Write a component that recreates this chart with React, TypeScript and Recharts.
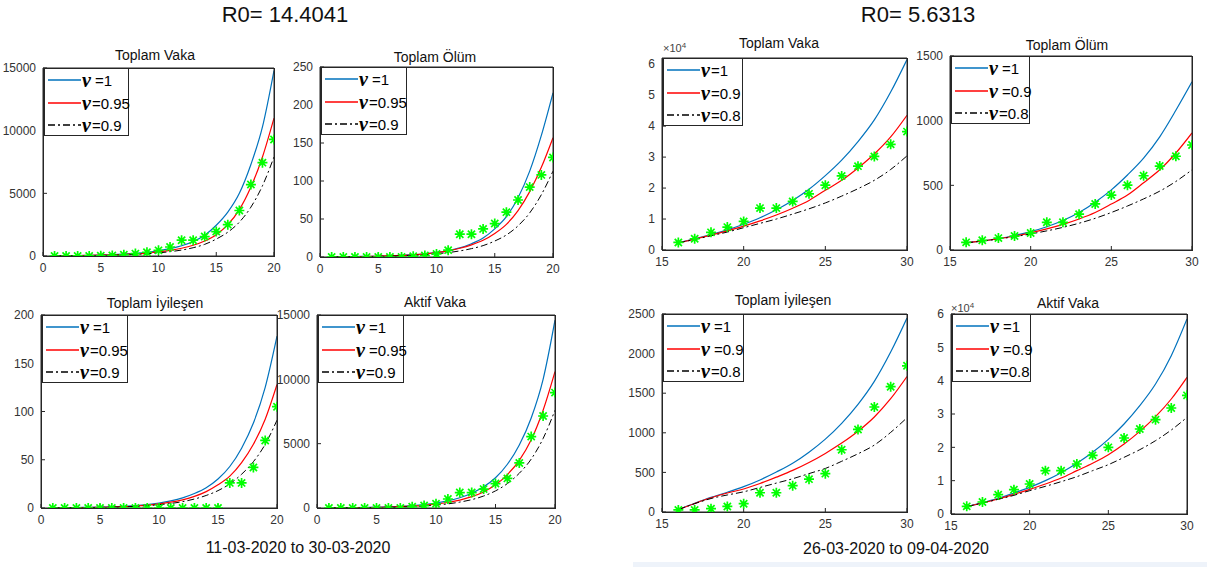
import React from 'react';
import { ComposedChart, Line, XAxis, YAxis } from 'recharts';

// ---------- categories ----------
const leftDays = [1, 2, 3, 4, 5, 6, 7, 8, 9, 10, 11, 12, 13, 14, 15, 16, 17, 18, 19, 20];
const rightDays = [16, 17, 18, 19, 20, 21, 22, 23, 24, 25, 26, 27, 28, 29, 30];

// ---------- tick labels ----------
const leftXTicks = [0, 5, 10, 15, 20];
const rightXTicks = [15, 20, 25, 30];
const ticks15000 = [0, 5000, 10000, 15000];
const ticks250 = [0, 50, 100, 150, 200, 250];
const ticks200 = [0, 50, 100, 150, 200];
const ticks1500 = [0, 500, 1000, 1500];
const ticks2500 = [0, 500, 1000, 1500, 2000, 2500];
const ticks6e4 = [0, 10000, 20000, 30000, 40000, 50000, 60000];

const leftLabels = ['=1', '=0.95', '=0.9'];
const rightLabels = ['=1', '=0.9', '=0.8'];

// ---------- left panel (R0 = 14.4041) ----------
const leftVakaNu1 = [20, 28, 40, 56, 78, 110, 155, 215, 300, 420, 590, 820, 1150, 1650, 2450, 3500, 5000, 7300, 10300, 14800];
const leftVakaNu2 = [16, 23, 32, 45, 63, 88, 123, 170, 235, 325, 450, 620, 860, 1200, 1700, 2500, 3700, 5500, 7900, 11000];
const leftVakaNu3 = [13, 18, 25, 35, 49, 68, 95, 132, 183, 250, 345, 475, 660, 930, 1350, 1900, 2700, 3900, 5600, 7900];
const leftVakaObs = [1, 1, 5, 6, 18, 47, 98, 191, 300, 450, 720, 1260, 1260, 1550, 1950, 2500, 3630, 5700, 7450, 9300];

const leftOlumNu1 = [0.3, 0.4, 0.6, 0.8, 1.1, 1.5, 2.1, 3, 4.2, 6, 8.5, 12, 17.5, 25, 37, 53, 78, 113, 160, 216];
const leftOlumNu2 = [0.3, 0.4, 0.55, 0.75, 1.05, 1.5, 2.1, 2.9, 4.1, 5.8, 8, 11.5, 16, 22, 31, 43, 61, 86, 118, 157];
const leftOlumNu3 = [0.25, 0.35, 0.48, 0.65, 0.9, 1.2, 1.6, 2.2, 3, 4.2, 5.8, 8, 11, 15, 21, 29, 41, 58, 82, 113];
const leftOlumObs = [0, 0, 0, 0, 0, 0, 0, 1, 2, 4, 9, 30, 30, 37, 44, 59, 75, 92, 108, 131];

const leftIyiNu1 = [0.22, 0.32, 0.45, 0.65, 0.9, 1.3, 1.8, 2.5, 3.6, 5.2, 7.4, 10.5, 15, 21, 30, 43, 62, 88, 125, 178];
const leftIyiNu2 = [0.19, 0.27, 0.38, 0.53, 0.75, 1.05, 1.5, 2.1, 3, 4.3, 6, 8.5, 12, 17, 24, 33, 47, 66, 92, 128];
const leftIyiNu3 = [0.16, 0.22, 0.31, 0.44, 0.61, 0.86, 1.2, 1.7, 2.4, 3.4, 4.7, 6.6, 9.3, 13, 18, 25, 35, 48, 66, 91];
const leftIyiObs = [0, 0, 0, 0, 0, 0, 0, 0, 0, 0, 0, 0, 0, 0, 0, 26, 26, 42, 70, 105];

const leftAktifNu1 = [15, 21, 30, 44, 63, 90, 130, 190, 270, 390, 560, 800, 1150, 1650, 2350, 3400, 4900, 7000, 10000, 14600];
const leftAktifNu2 = [12, 17, 25, 35, 50, 70, 100, 145, 210, 300, 430, 610, 880, 1250, 1800, 2600, 3700, 5300, 7600, 10600];
const leftAktifNu3 = [9, 13, 19, 27, 39, 55, 78, 110, 160, 225, 320, 460, 650, 930, 1330, 1900, 2700, 3800, 5400, 7600];
const leftAktifObs = [0, 0, 0, 0, 0, 0, 0, 100, 190, 330, 700, 1200, 1200, 1470, 1900, 2300, 3500, 5550, 7150, 8970];

// ---------- right panel (R0 = 5.6313) ----------
const rightVakaNu1 = [2300, 3600, 5000, 6500, 8300, 10400, 13000, 16000, 19600, 24000, 29000, 35000, 42000, 51000, 61500];
const rightVakaNu2 = [2300, 3500, 4800, 6200, 7700, 9400, 11300, 13500, 16000, 19300, 22500, 26500, 31000, 36500, 43500];
const rightVakaNu3 = [2300, 3400, 4600, 5800, 7200, 8600, 10000, 11600, 13300, 15200, 17400, 19800, 22500, 26000, 30400];
const rightVakaObs = [2433, 3629, 5698, 7402, 9217, 13531, 13531, 15679, 18135, 20921, 23934, 27069, 30217, 34109, 38226];

const rightOlumNu1 = [55, 70, 88, 112, 142, 180, 228, 290, 370, 465, 580, 710, 875, 1080, 1300];
const rightOlumNu2 = [55, 70, 87, 108, 133, 163, 198, 240, 290, 355, 425, 520, 620, 750, 905];
const rightOlumNu3 = [55, 69, 85, 103, 124, 148, 175, 207, 245, 290, 340, 395, 455, 530, 620];
const rightOlumObs = [59, 75, 92, 108, 131, 214, 214, 277, 356, 425, 501, 574, 649, 725, 812];

const rightIyiNu1 = [30, 110, 185, 250, 320, 405, 505, 615, 755, 920, 1120, 1360, 1650, 2020, 2450];
const rightIyiNu2 = [30, 108, 180, 240, 290, 360, 440, 525, 625, 740, 870, 1020, 1200, 1430, 1710];
const rightIyiNu3 = [30, 105, 170, 215, 255, 310, 365, 420, 485, 550, 640, 735, 845, 1005, 1190];
const rightIyiObs = [26, 26, 42, 70, 105, 243, 243, 333, 415, 484, 786, 1042, 1326, 1582, 1846];

const rightAktifNu1 = [2200, 3400, 4700, 6300, 8000, 10000, 12400, 15200, 18500, 22400, 27000, 32500, 39000, 47500, 58500];
const rightAktifNu2 = [2200, 3300, 4500, 5900, 7400, 9000, 10800, 13000, 15200, 17800, 21000, 24800, 29200, 34500, 41000];
const rightAktifNu3 = [2200, 3300, 4400, 5600, 7000, 8300, 9700, 11200, 13000, 14800, 17000, 19300, 22000, 25200, 29000];
const rightAktifObs = [2300, 3600, 5800, 7300, 9000, 13000, 13000, 15000, 17600, 20000, 22800, 25500, 28300, 31800, 35600];

// ---------- styling ----------
const SANS = 'Liberation Sans, Arial, Helvetica, sans-serif';
const BLUE = '#0072BD';
const RED = '#FF0000';
const BLACK = '#000000';
const GREEN = '#00FF00';
const AXIS = '#262626';

type Spec = {
  title: string;
  titleX: number;
  titleY: number;
  x: number;
  y: number;
  w: number;
  h: number;
  days: number[];
  a: number[];
  b: number[];
  c: number[];
  obs: number[];
  xDomain: [number, number];
  xTicks: number[];
  yDomain: [number, number];
  yTicks: number[];
  exp?: boolean;
  labels: string[];
  spaces: boolean[];
  legendW: number;
};

const Star = (props: any) => {
  const { cx, cy, index } = props;
  if (cx == null || cy == null) return <g key={`s${index}`} />;
  const r = 5;
  const d = 3.6;
  return (
    <path
      key={`s${index}`}
      d={`M${cx - r},${cy}H${cx + r}M${cx},${cy - r}V${cy + r}M${cx - d},${cy - d}L${cx + d},${cy + d}M${cx - d},${cy + d}L${cx + d},${cy - d}`}
      stroke={GREEN}
      strokeWidth={1.7}
      fill="none"
    />
  );
};

const ML = 50;
const MT = 10;
const MR = 10;
const MB = 30;

function SubPlot({ s }: { s: Spec }) {
  const data = s.days.map((d, i) => ({ day: d, a: s.a[i], b: s.b[i], c: s.c[i], obs: s.obs[i] }));
  const tickStyle = { fill: '#333', fontSize: 12, fontFamily: SANS };
  const fmt = (v: number) => (s.exp ? String(v / 10000) : String(v));
  return (
    <div style={{ position: 'absolute', left: s.x - ML, top: s.y - MT }}>
      <ComposedChart
        width={s.w + ML + MR}
        height={s.h + MT + MB}
        data={data}
        margin={{ top: MT - 1, right: MR - 1, bottom: 0, left: 0 }}
      >
        <XAxis
          xAxisId="b"
          dataKey="day"
          type="number"
          domain={s.xDomain}
          ticks={s.xTicks}
          interval={0}
          height={MB}
          tickSize={-4}
          tickMargin={11}
          stroke={AXIS}
          tick={tickStyle}
          allowDataOverflow
        />
        <XAxis
          xAxisId="t"
          orientation="top"
          dataKey="day"
          type="number"
          domain={s.xDomain}
          ticks={s.xTicks}
          interval={0}
          height={1}
          tickSize={-4}
          tick={false}
          stroke={AXIS}
          allowDataOverflow
        />
        <YAxis
          yAxisId="l"
          type="number"
          domain={s.yDomain}
          ticks={s.yTicks}
          interval={0}
          width={ML}
          tickSize={-4}
          tickMargin={11}
          stroke={AXIS}
          tick={tickStyle}
          tickFormatter={fmt}
          allowDataOverflow
        />
        <YAxis
          yAxisId="r"
          orientation="right"
          type="number"
          domain={s.yDomain}
          ticks={s.yTicks}
          interval={0}
          width={1}
          tickSize={-4}
          tick={false}
          stroke={AXIS}
          allowDataOverflow
        />
        <Line xAxisId="b" yAxisId="l" type="monotone" dataKey="a" stroke={BLUE} strokeWidth={1.2} dot={false} activeDot={false} isAnimationActive={false} />
        <Line xAxisId="b" yAxisId="l" type="monotone" dataKey="b" stroke={RED} strokeWidth={1.2} dot={false} activeDot={false} isAnimationActive={false} />
        <Line xAxisId="b" yAxisId="l" type="monotone" dataKey="c" stroke={BLACK} strokeWidth={1} strokeDasharray="7 3 2 3" dot={false} activeDot={false} isAnimationActive={false} />
        <Line xAxisId="b" yAxisId="l" type="linear" dataKey="obs" stroke="none" dot={Star} activeDot={false} isAnimationActive={false} />
      </ComposedChart>
    </div>
  );
}

function Frame({ s }: { s: Spec }) {
  return (
    <div
      style={{
        position: 'absolute',
        left: s.x,
        top: s.y,
        width: s.w + 1,
        height: s.h + 1,
        border: `1px solid ${AXIS}`,
        boxSizing: 'border-box',
        pointerEvents: 'none',
      }}
    />
  );
}

function LegendBox({ s }: { s: Spec }) {
  const colors = [BLUE, RED, BLACK];
  const dashes = [undefined, undefined, '7 3 2 3'];
  const rowsY = [11, 34, 56];
  return (
    <div
      style={{
        position: 'absolute',
        left: s.x + 1,
        top: s.y,
        width: s.legendW,
        height: 68,
        border: `1px solid ${AXIS}`,
        background: '#fff',
        boxSizing: 'border-box',
      }}
    >
      {s.labels.map((lab, i) => (
        <div
          key={i}
          style={{
            position: 'absolute',
            left: 2,
            top: rowsY[i] - 11,
            height: 22,
            display: 'flex',
            alignItems: 'center',
            whiteSpace: 'nowrap',
          }}
        >
          <svg width={34} height={22} style={{ display: 'block' }}>
            <line x1={1} y1={11} x2={34} y2={11} stroke={colors[i]} strokeWidth={1.3} strokeDasharray={dashes[i]} />
          </svg>
          <span style={{ fontFamily: 'Liberation Serif, Times New Roman, serif', fontStyle: 'italic', fontWeight: 'bold', fontSize: 20, color: '#000', marginLeft: 1 }}>ν</span>
          <span style={{ fontFamily: SANS, fontSize: 15, color: '#000', marginLeft: s.spaces[i] ? 4 : 1 }}>{lab}</span>
        </div>
      ))}
    </div>
  );
}

function Title({ text, x, y, size }: { text: string; x: number; y: number; size: number }) {
  return (
    <div
      style={{
        position: 'absolute',
        left: x - 200,
        top: y - size * 0.6,
        width: 400,
        textAlign: 'center',
        fontFamily: SANS,
        fontSize: size,
        lineHeight: `${size * 1.2}px`,
        color: '#111',
        whiteSpace: 'nowrap',
      }}
    >
      {text}
    </div>
  );
}

function ExpLabel({ x, y }: { x: number; y: number }) {
  return (
    <div style={{ position: 'absolute', left: x, top: y, fontFamily: SANS, fontSize: 11, color: '#444', whiteSpace: 'nowrap', lineHeight: '12px' }}>
      ×10<sup style={{ fontSize: 8, verticalAlign: 'top', position: 'relative', top: -2 }}>4</sup>
    </div>
  );
}

const specs: Spec[] = [
  {
    title: 'Toplam Vaka', titleX: 155, titleY: 55, x: 43, y: 68, w: 231, h: 188,
    days: leftDays, a: leftVakaNu1, b: leftVakaNu2, c: leftVakaNu3, obs: leftVakaObs,
    xDomain: [0, 20], xTicks: leftXTicks, yDomain: [0, 15000], yTicks: ticks15000,
    labels: leftLabels, spaces: [true, false, false], legendW: 85,
  },
  {
    title: 'Toplam Ölüm', titleX: 435, titleY: 57, x: 320, y: 67, w: 233, h: 190,
    days: leftDays, a: leftOlumNu1, b: leftOlumNu2, c: leftOlumNu3, obs: leftOlumObs,
    xDomain: [0, 20], xTicks: leftXTicks, yDomain: [0, 250], yTicks: ticks250,
    labels: leftLabels, spaces: [true, false, false], legendW: 86,
  },
  {
    title: 'Toplam İyileşen', titleX: 155, titleY: 303, x: 41, y: 315, w: 236, h: 193,
    days: leftDays, a: leftIyiNu1, b: leftIyiNu2, c: leftIyiNu3, obs: leftIyiObs,
    xDomain: [0, 20], xTicks: leftXTicks, yDomain: [0, 200], yTicks: ticks200,
    labels: leftLabels, spaces: [true, false, false], legendW: 86,
  },
  {
    title: 'Aktif Vaka', titleX: 435, titleY: 302, x: 317, y: 315, w: 238, h: 193,
    days: leftDays, a: leftAktifNu1, b: leftAktifNu2, c: leftAktifNu3, obs: leftAktifObs,
    xDomain: [0, 20], xTicks: leftXTicks, yDomain: [0, 15000], yTicks: ticks15000,
    labels: leftLabels, spaces: [true, true, false], legendW: 86,
  },
  {
    title: 'Toplam Vaka', titleX: 779, titleY: 43, x: 662, y: 58, w: 245, h: 192,
    days: rightDays, a: rightVakaNu1, b: rightVakaNu2, c: rightVakaNu3, obs: rightVakaObs,
    xDomain: [15, 30], xTicks: rightXTicks, yDomain: [0, 62000], yTicks: ticks6e4, exp: true,
    labels: rightLabels, spaces: [false, false, false], legendW: 80,
  },
  {
    title: 'Toplam Ölüm', titleX: 1067, titleY: 45, x: 950, y: 56, w: 242, h: 194,
    days: rightDays, a: rightOlumNu1, b: rightOlumNu2, c: rightOlumNu3, obs: rightOlumObs,
    xDomain: [15, 30], xTicks: rightXTicks, yDomain: [0, 1500], yTicks: ticks1500,
    labels: rightLabels, spaces: [true, true, false], legendW: 79,
  },
  {
    title: 'Toplam İyileşen', titleX: 783, titleY: 300, x: 662, y: 314, w: 245, h: 198,
    days: rightDays, a: rightIyiNu1, b: rightIyiNu2, c: rightIyiNu3, obs: rightIyiObs,
    xDomain: [15, 30], xTicks: rightXTicks, yDomain: [0, 2500], yTicks: ticks2500,
    labels: rightLabels, spaces: [true, true, false], legendW: 81,
  },
  {
    title: 'Aktif Vaka', titleX: 1068, titleY: 303, x: 951, y: 314, w: 236, h: 200,
    days: rightDays, a: rightAktifNu1, b: rightAktifNu2, c: rightAktifNu3, obs: rightAktifObs,
    xDomain: [15, 30], xTicks: rightXTicks, yDomain: [0, 60000], yTicks: ticks6e4, exp: true,
    labels: rightLabels, spaces: [true, true, false], legendW: 79,
  },
];

export default function App() {
  return (
    <div style={{ position: 'absolute', left: 0, top: 0, width: 1207, height: 567, background: '#fff', overflow: 'hidden' }}>
      <Title text="R0= 14.4041" x={285} y={15} size={22} />
      <Title text="R0= 5.6313" x={918} y={15} size={22} />
      {specs.map((s, i) => (
        <React.Fragment key={i}>
          <SubPlot s={s} />
          <Frame s={s} />
          <LegendBox s={s} />
          <Title text={s.title} x={s.titleX} y={s.titleY} size={14} />
        </React.Fragment>
      ))}
      <ExpLabel x={663} y={42} />
      <ExpLabel x={951} y={302} />
      <Title text="11-03-2020 to 30-03-2020" x={298} y={548} size={16} />
      <Title text="26-03-2020 to 09-04-2020" x={896} y={549} size={16} />
      <div style={{ position: 'absolute', left: 633, top: 562, width: 574, height: 5, background: '#eef3fa' }} />
    </div>
  );
}
